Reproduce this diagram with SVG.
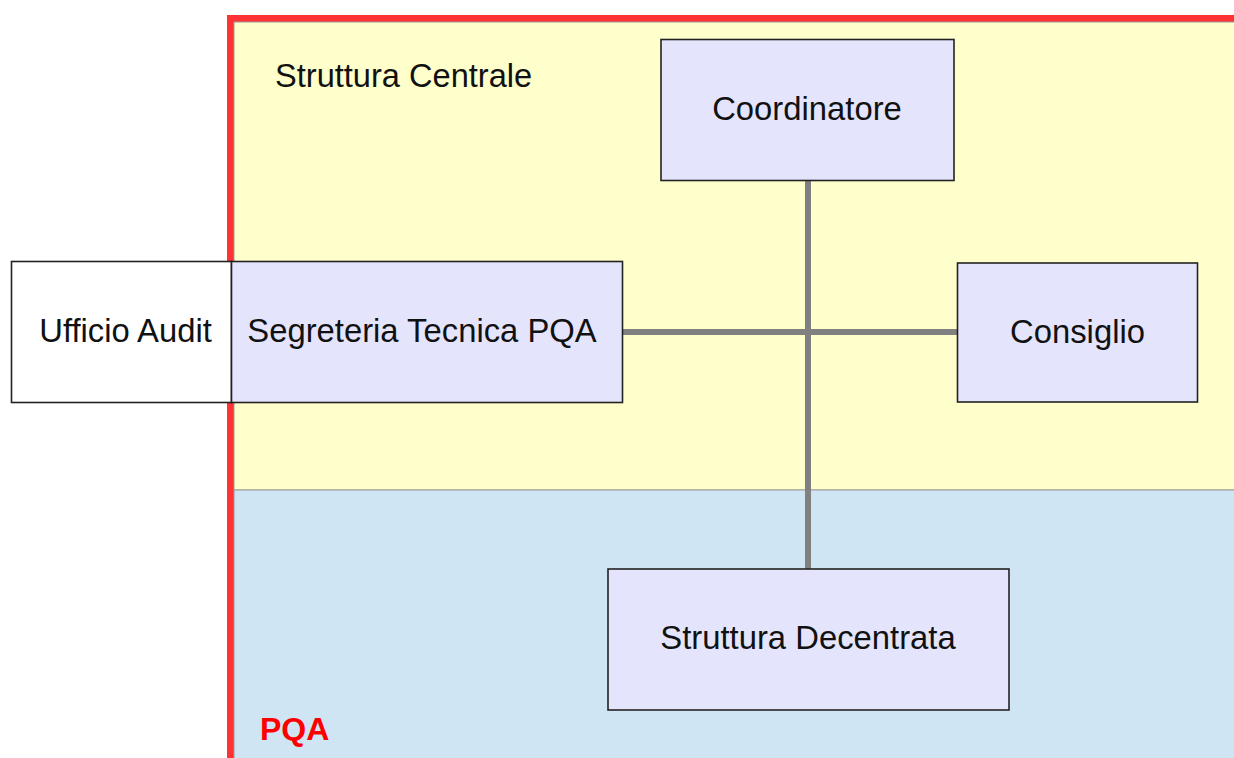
<svg xmlns="http://www.w3.org/2000/svg" width="1234" height="758" viewBox="0 0 1234 758">
<style>
.node{fill:#e4e4fc;stroke:#222;stroke-width:1.6}
.lbl{font-family:"Liberation Sans",Arial,sans-serif;font-size:32.8px;fill:#111;text-anchor:middle}
.conn{stroke:#808080;stroke-width:6;fill:none}
</style>
<rect x="0" y="0" width="1234" height="758" fill="#ffffff"/>
<g id="pqa">
<rect x="230.5" y="18.5" width="1020" height="760" fill="none" stroke="#ff3333" stroke-width="7"/>
<rect x="234" y="22" width="1010" height="468" fill="#ffffcc" stroke="#999" stroke-width="1"/>
<rect x="234" y="490" width="1010" height="280" fill="#d0e5f3" stroke="#999" stroke-width="1"/>
<text x="260" y="740" font-family="Liberation Sans, Arial, sans-serif" font-size="32" font-weight="bold" fill="#ff0000">PQA</text>
<text x="275" y="87" font-family="Liberation Sans, Arial, sans-serif" font-size="32.6" fill="#111">Struttura Centrale</text>
</g>
<g id="connectors">
<line class="conn" x1="808" y1="181" x2="808" y2="569"/>
<line class="conn" x1="623" y1="332" x2="957" y2="332"/>
</g>
<g id="ufficio-audit">
<rect x="11.5" y="261.5" width="220" height="141" fill="#ffffff" stroke="#222" stroke-width="1.6"/>
<text class="lbl" x="125.5" y="342">Ufficio Audit</text>
</g>
<g id="segreteria">
<rect class="node" x="231.5" y="261.5" width="391" height="141"/>
<text class="lbl" x="422" y="342">Segreteria Tecnica PQA</text>
</g>
<g id="coordinatore">
<rect class="node" x="661" y="39.5" width="293" height="141"/>
<text class="lbl" x="807" y="120">Coordinatore</text>
</g>
<g id="consiglio">
<rect class="node" x="957.5" y="263" width="240" height="139"/>
<text class="lbl" x="1077.5" y="343">Consiglio</text>
</g>
<g id="struttura-decentrata">
<rect class="node" x="608" y="569" width="401" height="141"/>
<text class="lbl" x="808" y="649">Struttura Decentrata</text>
</g>
</svg>
